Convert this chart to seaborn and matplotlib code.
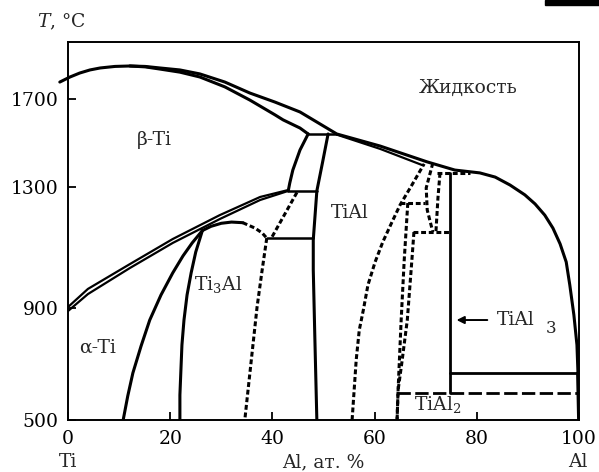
import numpy as np
import matplotlib
matplotlib.use("Agg")
import matplotlib.pyplot as plt
import seaborn as sns
from matplotlib.patches import Rectangle

# Ti-Al phase diagram (x: at.% Al, T: deg C)

# liquidus (beta side, then down to Al)
liq_x = [-1.6, 0.4, 2.3, 4.3, 6.3, 9.2, 12.1, 15.1, 18.0, 21.9, 25.8, 30.7,
         35.6, 40.5, 45.4, 52.6, 61.1, 70.3, 75.7, 80.6, 83.6, 86.5, 89.4,
         91.4, 93.3, 94.9, 96.3, 97.5, 98.2, 99.0, 99.6, 99.8]
liq_t = [1777, 1800, 1818, 1832, 1841, 1848, 1850, 1848, 1841, 1832, 1814, 1777,
         1727, 1686, 1641, 1541, 1486, 1414, 1377, 1364, 1345, 1309, 1274,
         1244, 1207, 1164, 1112, 1052, 976, 875, 768, 668]
# beta solidus
sol_b_x = [12.1, 15.1, 18.0, 21.9, 25.8, 30.7, 35.6, 40.5, 42.1, 45.4, 47.0]
sol_b_t = [1850, 1846, 1836, 1822, 1800, 1755, 1695, 1628, 1605, 1568, 1541]
# gamma solidus (second line of the double line)
sol_g_x = [52.6, 61.1, 69.5]
sol_g_t = [1538, 1473, 1398]
# peritectic
per_x = [47.0, 52.6]
per_t = [1541, 1541]
# beta / alpha+beta (Al side)
ba_x = [47.0, 45.4, 44.0, 43.4, 43.1]
ba_t = [1541, 1468, 1377, 1318, 1287]
# TiAl left boundary
gl_x = [50.9, 49.8, 48.7, 48.0, 48.0, 48.3, 48.7]
gl_t = [1541, 1410, 1287, 1125, 1026, 800, 500]
h1287_x = [43.1, 48.7]
h1287_t = [1287, 1287]
# beta transus (double line)
tr_x = [0, 3.9, 12.1, 20.5, 29.7, 37.6, 43.1]
tr_up_t = [903, 963, 1045, 1128, 1207, 1267, 1290]
tr_lo_t = [889, 946, 1032, 1115, 1194, 1257, 1287]
# alpha / alpha+Ti3Al and Ti3Al / alpha+Ti3Al
a_x = [10.8, 11.7, 12.7, 14.3, 16.0, 18.2, 20.5, 22.5, 24.3, 26.3]
a_t = [500, 586, 668, 764, 857, 943, 1016, 1072, 1115, 1156]
a2_x = [21.9, 21.9, 22.1, 22.3, 22.7, 23.3, 24.1, 25.0, 26.3]
a2_t = [500, 589, 679, 768, 857, 943, 1016, 1085, 1156]
dome_x = [26.3, 28.0, 30.0, 32.0, 34.2]
dome_t = [1156, 1170, 1180, 1184, 1182]
dome_d_x = [34.2, 36.6, 38.0, 38.9]
dome_d_t = [1182, 1164, 1148, 1131]
a2r_x = [38.9, 38.0, 37.0, 35.6, 34.6]
a2r_t = [1131, 1026, 903, 668, 500]
h1131_x = [38.9, 48.0]
h1131_t = [1131, 1131]
ag_x = [44.8, 39.8]
ag_t = [1282, 1131]
# Al-rich side of TiAl
d1_x = [55.6, 56.0, 56.4, 57.0, 57.8, 58.7, 60.1, 61.6, 63.4, 65.0, 67.3, 69.7]
d1_t = [500, 607, 714, 821, 893, 976, 1052, 1118, 1184, 1241, 1309, 1405]
d2_x = [66.5, 65.8, 65.2, 64.6, 64.4]
d2_t = [1247, 1059, 857, 607, 500]
d3_x = [67.7, 67.3, 66.4, 65.3, 64.6, 64.4]
d3_t = [1151, 1059, 857, 700, 607, 500]
d4_x = [71.4, 70.1, 70.3, 71.4]
d4_t = [1409, 1297, 1224, 1151]
d5_x = [72.8, 72.4, 72.0]
d5_t = [1364, 1264, 1151]
h1151_x = [67.5, 74.8]
h1151_t = [1151, 1151]
h1364_x = [72.2, 78.7]
h1364_t = [1364, 1364]
h1247_x = [65.0, 69.9]
h1247_t = [1247, 1247]
# TiAl3, eutectic, TiAl2
tial3_x = [74.8, 74.8]
tial3_t = [1364, 596]
eut_x = [74.8, 99.6]
eut_t = [668, 668]
tial2_x = [64.4, 99.6]
tial2_t = [596, 596]
al_x = [99.7, 99.9]
al_t = [668, 500]

y_ticks = [500, 900, 1300, 1700]
x_ticks = [0, 20, 40, 60, 80, 100]

# the drawn temperature axis is not linear: anchor it at the tick positions
TK = [300, 500, 900, 1300, 1700, 2200]
PK = [-56, 0, 112, 233, 321, 431]


def fwd(t):
    return np.interp(t, TK, PK)


def inv(p):
    return np.interp(p, PK, TK)


sns.set_theme(style="white")
plt.rcParams['font.family'] = ['DejaVu Serif']
plt.rcParams['mathtext.fontset'] = 'dejavuserif'

fig = plt.figure(figsize=(5.99, 4.72), dpi=100)
ax = fig.add_axes([0.1135, 0.1102, 0.8531, 0.8008])
ax.set_yscale('function', functions=(fwd, inv))

SOLID = '-'
DASH = (0, (1.6, 0.9))


def curve(x, t, ls=SOLID, lw=2.2, clip=True):
    sns.lineplot(x=x, y=t, sort=False, estimator=None, ax=ax, color='black',
                 linewidth=lw, linestyle=ls, clip_on=clip)


curve(liq_x, liq_t, clip=False)
curve(sol_b_x, sol_b_t)
curve(sol_g_x, sol_g_t, lw=1.6)
curve(per_x, per_t, lw=1.8)
curve(ba_x, ba_t)
curve(gl_x, gl_t)
curve(h1287_x, h1287_t, lw=1.8)
curve(tr_x, tr_up_t, lw=1.6)
curve(tr_x, tr_lo_t, lw=1.6)
curve(a_x, a_t)
curve(a2_x, a2_t)
curve(dome_x, dome_t)
curve(dome_d_x, dome_d_t, ls=DASH)
curve(a2r_x, a2r_t, ls=DASH)
curve(h1131_x, h1131_t, lw=1.8)
curve(ag_x, ag_t, ls=DASH)
curve(d1_x, d1_t, ls=DASH)
curve(d2_x, d2_t, ls=DASH)
curve(d3_x, d3_t, ls=DASH)
curve(d4_x, d4_t, ls=DASH)
curve(d5_x, d5_t, ls=DASH)
curve(h1151_x, h1151_t, ls=DASH)
curve(h1364_x, h1364_t, ls=DASH)
curve(h1247_x, h1247_t, ls=DASH)
curve(tial3_x, tial3_t, lw=2.0)
curve(eut_x, eut_t, lw=2.0)
curve(tial2_x, tial2_t, ls=(0, (4.8, 1.6)), lw=2.0)
curve(al_x, al_t, lw=2.0)

ax.set_xlim(0, 100)
ax.set_ylim(500, 1959)
ax.set_xticks(x_ticks)
ax.set_xticklabels([str(v) for v in x_ticks])
ax.set_yticks(y_ticks)
ax.set_yticklabels([str(v) for v in y_ticks])
ax.minorticks_off()
ax.set_xlabel('')
ax.set_ylabel('')
fs = 13.5
ax.tick_params(direction='in', length=6, width=1.3, labelsize=fs,
               colors='black', pad=7, left=True, bottom=True)
for s in ax.spines.values():
    s.set_visible(True)
    s.set_color('black')
    s.set_linewidth(1.4)

ax.text(17.0, 1514, 'β-Ti', fontsize=fs, ha='center', va='center')
ax.text(78.3, 1750, 'Жидкость', fontsize=fs, ha='center', va='center')
ax.text(55.2, 1214, 'TiAl', fontsize=fs, ha='center', va='center')
ax.text(29.4, 976, r'Ti$_3$Al', fontsize=fs, ha='center', va='center')
ax.text(5.7, 757, 'α-Ti', fontsize=fs, ha='center', va='center')
ax.text(83.9, 857, 'TiAl', fontsize=fs, ha='left', va='center')
ax.text(93.4, 826, '3', fontsize=12, ha='left', va='center')
ax.annotate('', xy=(75.5, 857), xytext=(82.6, 857),
            arrowprops=dict(arrowstyle='-|>', color='black', lw=1.4,
                            mutation_scale=11))
ax.text(72.3, 556, r'TiAl$_2$', fontsize=fs, ha='center', va='center')

ax.text(-0.061, 1.053, r'$T$, °C', fontsize=fs, ha='left', va='center',
        transform=ax.transAxes)
ax.text(0.0, -0.111, 'Ti', fontsize=fs, ha='center', va='center',
        transform=ax.transAxes)
ax.text(0.499, -0.111, 'Al, ат. %', fontsize=fs, ha='center', va='center',
        transform=ax.transAxes)
ax.text(0.998, -0.111, 'Al', fontsize=fs, ha='center', va='center',
        transform=ax.transAxes)

# dark scan mark in the top right corner
fig.patches.append(Rectangle((545 / 599, 467 / 472), 54 / 599, 5 / 472,
                             transform=fig.transFigure, color='black'))

fig.savefig('out.png', dpi=100)
